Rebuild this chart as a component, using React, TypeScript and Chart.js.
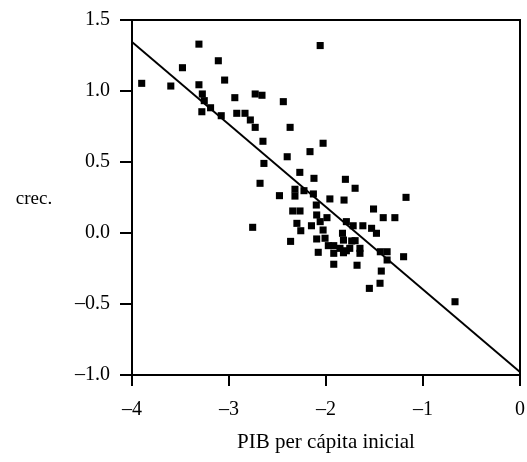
import React, { useEffect, useRef } from "react";
import { Chart, registerables } from "chart.js";

Chart.register(...registerables);

// PIB per cápita inicial (x) and crec. (y)
const pibX = [
  -3.90, -3.60, -3.48, -3.31, -3.31, -3.275, -3.255, -3.28, -3.19, -3.11,
  -3.08, -3.045, -2.94, -2.92, -2.835, -2.78, -2.73, -2.73, -2.66, -2.65,
  -2.64, -2.44, -2.37, -2.40, -2.27, -2.165, -2.03, -2.68, -2.124, -1.80,
  -1.70, -2.48, -2.32, -2.32, -2.227, -2.13, -1.96, -1.814, -1.175, -2.10,
  -2.343, -2.268, -2.096, -1.51, -1.41, -1.29, -2.30, -2.06, -1.99, -1.79,
  -1.72, -1.62, -1.53, -1.48, -2.756, -2.15, -2.26, -2.03, -1.83, -2.096,
  -2.01, -1.82, -1.735, -1.70, -2.365, -1.976, -1.92, -1.856, -1.79, -1.755,
  -1.65, -1.65, -1.82, -2.08, -1.92, -1.44, -1.37, -1.20, -1.37, -1.92,
  -1.68, -1.43, -1.443, -1.553, -0.67, -2.06
];
const crecY = [
  1.054, 1.035, 1.164, 1.33, 1.044, 0.979, 0.932, 0.854, 0.882, 1.213,
  0.826, 1.077, 0.953, 0.843, 0.843, 0.796, 0.979, 0.744, 0.97, 0.646,
  0.49, 0.925, 0.744, 0.537, 0.427, 0.573, 0.632, 0.35, 0.385, 0.378,
  0.315, 0.263, 0.308, 0.26, 0.298, 0.275, 0.24, 0.232, 0.251, 0.197,
  0.155, 0.155, 0.127, 0.169, 0.108, 0.108, 0.068, 0.08, 0.108, 0.08,
  0.051, 0.051, 0.033, -0.002, 0.04, 0.051, 0.016, 0.021, -0.002, -0.042,
  -0.037, -0.05, -0.056, -0.054, -0.059, -0.089, -0.089, -0.108, -0.125, -0.108,
  -0.108, -0.143, -0.139, -0.136, -0.143, -0.132, -0.132, -0.167, -0.19, -0.22,
  -0.227, -0.268, -0.354, -0.39, -0.484, 1.32
];

// Fitted line endpoints
const fitX = [-4, 0];
const fitY = [1.345, -0.979];

const xTicks = [-4, -3, -2, -1, 0];
const yTicks = [-1.0, -0.5, 0.0, 0.5, 1.0, 1.5];

const xTitle = "PIB per cápita inicial";
const yTitle = "crec.";

const FONT = "'Liberation Serif', 'Times New Roman', serif";

const fmt = (v: number, digits: number) => {
  const s = Math.abs(v).toFixed(digits);
  return v < 0 ? "\u2013" + s : s;
};

export default function App() {
  const ref = useRef<HTMLCanvasElement | null>(null);

  useEffect(() => {
    document.body.style.margin = "0";
    const canvas = ref.current;
    if (!canvas) return;

    const framePlugin = {
      id: "frameAndLabel",
      afterDraw(chart: any) {
        const { ctx, chartArea } = chart;
        ctx.save();
        ctx.strokeStyle = "#000";
        ctx.lineWidth = 2;
        ctx.beginPath();
        ctx.moveTo(chartArea.left, chartArea.top);
        ctx.lineTo(chartArea.right, chartArea.top);
        ctx.lineTo(chartArea.right, chartArea.bottom);
        ctx.stroke();
        ctx.fillStyle = "#000";
        ctx.font = `19px ${FONT}`;
        ctx.textAlign = "center";
        ctx.textBaseline = "middle";
        ctx.fillText(yTitle, 34, chart.scales.y.getPixelForValue(0.24));
        ctx.restore();
      },
    };

    const chart = new Chart(canvas, {
      type: "scatter",
      data: {
        datasets: [
          {
            label: "países",
            data: pibX.map((x, i) => ({ x, y: crecY[i] })),
            pointStyle: "rect",
            pointRadius: 5,
            backgroundColor: "#000",
            borderColor: "#000",
            borderWidth: 0,
          },
          {
            type: "line",
            label: "ajuste",
            data: fitX.map((x, i) => ({ x, y: fitY[i] })),
            borderColor: "#000",
            borderWidth: 2,
            pointRadius: 0,
            fill: false,
          } as any,
        ],
      },
      plugins: [framePlugin],
      options: {
        animation: false,
        responsive: false,
        maintainAspectRatio: false,
        layout: { padding: { top: 20, right: 7, left: 0, bottom: 0 } },
        plugins: {
          legend: { display: false },
          tooltip: { enabled: false },
        },
        scales: {
          x: {
            type: "linear",
            min: -4,
            max: 0,
            afterBuildTicks: (s: any) => {
              s.ticks = xTicks.map((v) => ({ value: v }));
            },
            afterFit: (s: any) => {
              s.height = 87;
              s.paddingLeft = 0;
              s.paddingRight = 0;
            },
            ticks: {
              color: "#000",
              font: { family: FONT, size: 20 },
              padding: 12,
              maxRotation: 0,
              callback: (v: any) => fmt(Number(v), 0),
            },
            grid: {
              drawOnChartArea: false,
              drawTicks: true,
              tickLength: 11,
              color: "#000",
              lineWidth: 2,
            },
            border: { display: true, color: "#000", width: 2 },
            title: {
              display: true,
              text: xTitle,
              color: "#000",
              font: { family: FONT, size: 21 },
              padding: { top: 4, bottom: 7 },
            },
          },
          y: {
            type: "linear",
            min: -1,
            max: 1.5,
            afterBuildTicks: (s: any) => {
              s.ticks = yTicks.map((v) => ({ value: v }));
            },
            afterFit: (s: any) => {
              s.width = 132;
              s.paddingTop = 0;
              s.paddingBottom = 0;
            },
            ticks: {
              color: "#000",
              font: { family: FONT, size: 20 },
              padding: 10,
              callback: (v: any) => fmt(Number(v), 1),
            },
            grid: {
              drawOnChartArea: false,
              drawTicks: true,
              tickLength: 12,
              color: "#000",
              lineWidth: 2,
            },
            border: { display: true, color: "#000", width: 2 },
          },
        },
      },
    });

    return () => chart.destroy();
  }, []);

  return (
    <div style={{ position: "fixed", left: 0, top: 0, width: 527, height: 462, background: "#fff" }}>
      <canvas ref={ref} width={527} height={462} style={{ width: 527, height: 462 }} />
    </div>
  );
}
